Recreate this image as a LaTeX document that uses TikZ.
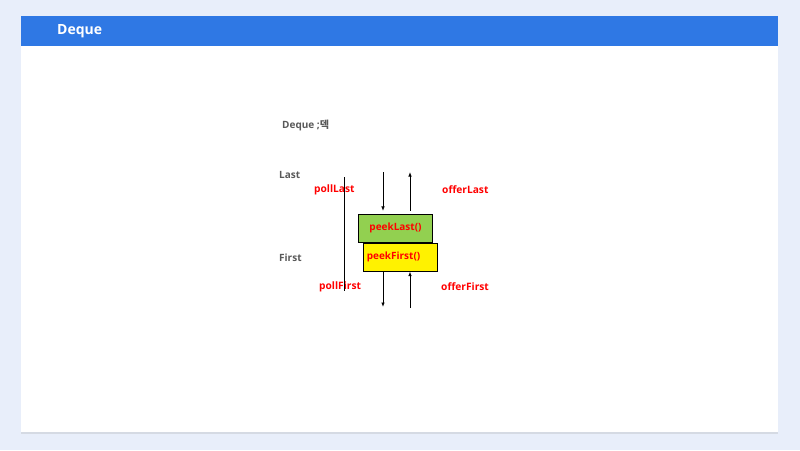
\documentclass[tikz,border=0pt]{standalone}
\usepackage{fontspec}
\setmainfont{Open Sans}
\newfontfamily\krfont{Noto Sans CJK KR}
\usetikzlibrary{arrows.meta, positioning, shadows}
\definecolor{pagebg}{RGB}{232,238,250}
\definecolor{headblue}{RGB}{47,120,228}
\definecolor{labgray}{RGB}{89,89,89}
\definecolor{peekgreen}{RGB}{146,208,80}
\tikzstyle{side}=[anchor=west, inner sep=0pt, text=labgray, font=\bfseries\fontsize{10}{12}\selectfont]
\tikzstyle{op}=[anchor=west, inner sep=0pt, text=red, font=\bfseries\fontsize{10.2}{12}\selectfont]
\tikzstyle{peekbox}=[rectangle, draw=black, line width=0.8pt, minimum width=74pt, minimum height=28pt, text=red, font=\bfseries\fontsize{10}{12}\selectfont]
\tikzstyle{flow}=[-{Latex[length=4.5pt,width=3.5pt]}, line width=0.8pt]

\begin{document}
\begin{tikzpicture}[x=1pt, y=-1pt]
        \useasboundingbox (0,0) rectangle (800,450);
        \fill[pagebg] (0,0) rectangle (800,450);
        % slide card and header
        \fill[white, drop shadow={opacity=0.18, shadow xshift=0pt, shadow yshift=-1.5pt}] (21,16) rectangle (778,432);
        \fill[headblue] (21,16) rectangle (778,46);
        \node (title) [anchor=west, inner sep=0pt, text=white, font=\bfseries\fontsize{14}{16}\selectfont] at (57,31.5) {Deque};

        \node (caption) [side] at (282,125) {Deque ;{\krfont\bfseries 덱}};
        \node (last) [side] at (279,175) {Last};
        \node (first) [side] at (279,258) {First};

        % peek boxes
        \node (peeklast) [peekbox, fill=peekgreen] at (395.5,228.3) {peekLast()};
        \node (peekfirst) [peekbox, fill=yellow, below=0pt of peeklast, xshift=4.8pt, text width=67pt, align=left, inner xsep=3.5pt, minimum width=74pt] {\raisebox{-3pt}{peekFirst()}};

        % operation labels
        \node (polllast) [op] at (314,190) {pollLast};
        \node (offerlast) [op] at (442,190) {offerLast};
        \node (pollfirst) [op] at (319,287) {pollFirst};
        \node (offerfirst) [op] at (441,287) {offerFirst};

        % ends of the connectors
        \coordinate (intop) at (383,172);
        \coordinate (outtop) at (410,172);
        \coordinate (inbot) at (383,307);
        \coordinate (outbot) at (410,308);
        \coordinate (axistop) at (344.5,177);
        \coordinate (axisbot) at (344.5,291);

        \draw [line width=0.8pt] (axistop) -- (axisbot);
        \draw [flow, shorten >=3pt] (intop) -- (intop |- peeklast.north);
        \draw [flow, shorten <=3pt] (outtop |- peeklast.north) -- (outtop);
        \draw [flow] (inbot |- peekfirst.south) -- (inbot);
        \draw [flow] (outbot) -- (outbot |- peekfirst.south);
    \end{tikzpicture}
\end{document}
